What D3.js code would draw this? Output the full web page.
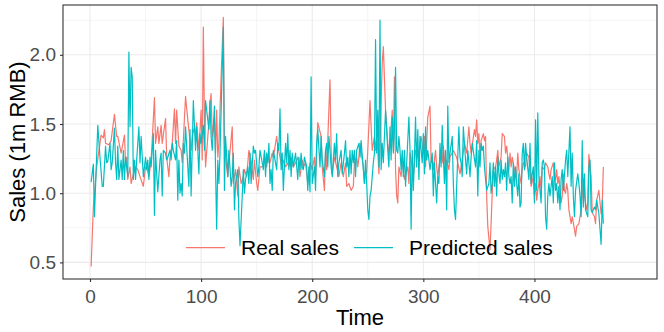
<!DOCTYPE html>
<html><head><meta charset="utf-8">
<script src="https://cdn.jsdelivr.net/npm/d3@7"></script>
<style>body{margin:0;background:#fff}svg{display:block}</style>
</head><body>
<svg id="chart" width="664" height="332"></svg>
<script>
const xTicks = [0, 100, 200, 300, 400];
const xMinorTicks = [50, 150, 250, 350, 450];
const yTicks = [0.5, 1.0, 1.5, 2.0];
const yMinorTicks = [0.75, 1.25, 1.75, 2.25];
const seriesNames = ["Real sales", "Predicted sales"];
const xTitle = "Time";
const yTitle = "Sales (1m RMB)";

// [time, sales] readings
const realSales = [[1,0.47],[3,0.90],[6,1.19],[10,1.42],[12,1.40],[13,1.46],[14,1.36],[17,1.35],[19,1.38],[22,1.57],[24,1.41],[25,1.41],[28,1.29],[31,1.42],[32,1.22],[33,1.26],[34,1.10],[36,1.19],[37,1.07],[39,1.14],[41,1.19],[43,1.17],[45,1.12],[48,1.05],[50,1.19],[51,1.19],[53,1.12],[55,1.23],[58,1.69],[59,1.36],[61,1.48],[62,1.36],[64,1.49],[65,1.36],[68,1.54],[69,1.26],[71,1.12],[72,1.26],[74,1.36],[76,1.61],[77,1.36],[78,1.60],[80,1.34],[82,1.31],[83,1.22],[86,1.70],[88,1.53],[91,1.31],[92,1.41],[94,1.48],[95,1.41],[96,1.51],[98,1.31],[100,1.60],[101,1.24],[102,2.20],[103,1.53],[104,1.19],[107,1.51],[108,1.65],[109,1.72],[110,1.41],[112,1.55],[113,1.29],[114,1.60],[115,1.26],[116,1.36],[118,1.84],[120,2.27],[121,1.36],[123,1.19],[124,1.12],[128,1.48],[129,1.07],[131,1.17],[133,0.98],[134,1.19],[136,1.07],[138,1.12],[139,1.17],[141,1.12],[143,1.31],[145,1.24],[147,1.10],[148,1.24],[150,1.07],[151,1.02],[153,1.19],[155,1.19],[156,1.22],[157,1.29],[159,1.19],[160,1.26],[162,1.22],[164,1.29],[165,1.26],[168,1.41],[169,1.34],[171,1.26],[173,1.17],[174,1.24],[176,1.19],[178,1.22],[179,1.19],[181,1.26],[183,1.19],[185,1.22],[187,1.26],[189,1.12],[191,1.24],[192,1.19],[194,1.22],[196,1.07],[198,1.22],[200,1.17],[202,1.26],[203,1.12],[204,1.31],[205,1.51],[208,1.41],[209,1.19],[211,1.02],[212,1.31],[213,1.17],[216,1.82],[217,1.31],[218,1.14],[220,1.26],[222,1.19],[224,1.12],[226,1.22],[228,1.12],[230,1.22],[231,1.05],[233,1.07],[235,1.02],[237,1.05],[238,1.22],[240,1.26],[241,1.19],[242,1.26],[243,1.36],[246,1.19],[247,1.07],[248,1.17],[249,1.14],[250,1.31],[252,1.67],[253,1.48],[254,1.31],[256,1.41],[257,1.31],[258,1.41],[259,1.31],[260,1.14],[261,1.36],[263,1.94],[264,2.06],[266,1.60],[268,1.36],[269,1.29],[270,1.34],[272,1.60],[273,1.31],[274,1.84],[275,1.17],[276,0.98],[277,0.93],[278,1.19],[280,1.12],[281,1.24],[283,1.10],[286,1.19],[287,1.07],[288,1.29],[290,1.19],[291,1.12],[293,1.31],[295,1.26],[296,1.31],[298,1.41],[300,1.29],[301,1.41],[302,1.19],[304,1.55],[306,1.63],[307,1.22],[308,1.26],[309,1.17],[311,1.31],[312,1.19],[313,1.12],[314,1.19],[316,1.29],[317,1.22],[318,1.34],[320,1.17],[321,1.24],[323,1.17],[324,1.26],[327,1.31],[328,1.29],[330,1.26],[331,1.22],[333,1.14],[334,1.19],[335,1.24],[337,1.36],[339,1.29],[341,1.48],[342,1.36],[343,1.29],[346,1.46],[347,1.41],[348,1.53],[349,1.36],[350,1.43],[351,1.26],[352,1.38],[354,1.43],[355,1.38],[356,1.41],[357,0.98],[358,0.76],[360,0.59],[361,0.78],[362,1.00],[363,1.17],[365,1.19],[366,1.24],[367,1.31],[368,1.19],[370,1.26],[371,1.43],[373,1.41],[374,1.29],[375,1.34],[377,1.17],[378,1.29],[379,1.19],[380,1.26],[382,1.17],[383,1.12],[384,1.12],[385,1.29],[386,1.17],[388,1.07],[389,1.17],[390,1.22],[392,1.19],[393,1.29],[395,1.26],[396,1.17],[397,1.05],[399,1.12],[400,0.98],[401,1.07],[402,0.95],[403,1.02],[404,1.07],[405,1.12],[406,1.02],[407,1.19],[409,1.17],[410,1.22],[412,1.19],[413,1.14],[414,1.10],[415,1.17],[417,1.22],[418,1.12],[419,1.10],[420,1.17],[421,1.07],[422,1.12],[423,1.02],[424,0.93],[425,0.98],[426,1.14],[427,1.02],[428,1.00],[429,1.07],[430,1.02],[431,0.88],[433,0.78],[434,0.83],[436,0.74],[437,0.69],[438,0.76],[440,0.78],[442,0.88],[443,0.98],[444,1.10],[445,0.98],[447,0.88],[448,0.93],[449,1.28],[451,1.12],[452,0.86],[454,0.83],[455,0.78],[456,0.95],[458,1.02],[460,0.85],[461,0.90],[462,1.19]];

const predSales = [[1,1.08],[3,1.21],[4,0.83],[7,1.49],[9,1.26],[11,1.05],[12,1.05],[14,1.34],[15,1.22],[16,1.23],[18,1.36],[19,1.17],[20,1.22],[22,1.47],[23,1.22],[24,1.10],[25,1.34],[26,1.10],[28,1.24],[29,1.10],[30,1.31],[31,1.10],[32,1.26],[33,1.19],[34,1.12],[35,2.02],[36,1.48],[37,1.91],[38,1.84],[39,1.10],[40,1.24],[41,1.10],[42,1.24],[44,1.48],[45,1.22],[46,1.41],[48,1.12],[50,1.26],[51,1.17],[52,1.24],[53,1.10],[54,1.26],[55,1.19],[57,1.43],[58,0.84],[59,1.31],[60,1.14],[61,1.01],[63,1.24],[64,1.29],[65,0.98],[66,1.31],[68,1.29],[69,1.24],[70,1.26],[72,1.31],[73,1.24],[74,1.36],[75,1.31],[77,1.24],[78,1.38],[79,0.95],[80,1.24],[81,1.00],[82,1.07],[83,0.98],[84,1.36],[85,1.29],[86,1.48],[89,1.05],[90,1.46],[91,0.98],[93,1.67],[95,1.31],[96,1.48],[98,1.14],[99,1.43],[100,1.36],[102,1.49],[103,1.31],[104,1.67],[107,1.46],[108,1.67],[109,1.41],[110,1.31],[112,1.63],[113,1.17],[114,0.74],[115,1.24],[116,1.07],[117,1.29],[120,2.20],[121,1.02],[122,1.41],[124,1.12],[125,1.31],[127,1.05],[128,1.12],[129,1.29],[130,0.88],[131,1.07],[133,1.17],[134,0.81],[135,0.62],[137,0.98],[138,1.17],[139,1.00],[140,1.10],[142,1.19],[143,1.07],[144,1.29],[145,1.07],[147,1.34],[148,1.29],[149,1.31],[151,1.12],[152,1.19],[153,1.31],[155,1.22],[156,1.17],[157,1.31],[158,1.12],[159,1.29],[160,1.22],[161,1.36],[162,1.07],[163,1.17],[164,1.02],[165,1.31],[168,1.17],[169,1.36],[170,1.31],[171,1.61],[172,1.17],[173,1.29],[174,1.02],[176,1.36],[177,1.22],[178,1.43],[179,1.17],[180,1.31],[181,1.12],[182,1.29],[183,1.19],[185,1.29],[187,1.10],[188,1.26],[189,1.17],[190,1.29],[191,1.19],[192,1.17],[193,1.26],[195,1.19],[196,1.02],[197,1.19],[198,1.01],[199,1.84],[200,1.07],[202,1.19],[203,1.02],[204,1.36],[205,1.46],[207,1.19],[208,1.41],[209,1.24],[211,1.12],[212,1.31],[213,1.36],[214,1.19],[215,1.41],[216,1.31],[217,1.19],[218,1.12],[220,1.36],[221,1.24],[222,1.43],[223,1.12],[224,1.22],[226,1.31],[227,1.14],[229,1.29],[230,1.38],[231,1.19],[232,1.26],[233,1.12],[234,1.31],[235,1.14],[236,1.31],[237,1.22],[238,1.31],[239,1.12],[240,1.31],[242,1.36],[243,1.26],[244,1.38],[246,1.17],[247,1.07],[248,1.24],[249,1.07],[250,0.88],[251,0.81],[252,0.98],[253,1.02],[255,1.22],[256,1.29],[257,2.11],[258,1.29],[259,1.60],[260,1.19],[261,2.25],[262,1.17],[263,1.36],[264,1.22],[266,1.60],[268,1.31],[269,1.19],[270,1.48],[271,1.24],[272,1.55],[273,1.29],[274,1.46],[275,1.91],[276,1.31],[277,1.29],[278,1.41],[279,1.31],[280,1.17],[281,1.31],[282,1.12],[283,1.31],[284,1.05],[287,1.55],[288,1.31],[289,0.74],[290,1.31],[291,1.02],[292,1.26],[293,1.55],[294,1.19],[295,1.46],[296,1.10],[297,1.41],[299,1.22],[300,1.43],[301,1.14],[302,1.48],[303,1.24],[304,1.31],[306,1.17],[308,1.29],[309,0.98],[310,1.22],[311,1.07],[312,0.93],[313,1.12],[314,1.07],[315,1.36],[316,1.19],[317,1.49],[318,1.26],[319,1.07],[320,1.31],[321,0.88],[322,1.63],[323,1.22],[324,1.29],[326,1.41],[327,1.07],[328,0.88],[329,0.81],[330,1.05],[332,1.48],[333,1.26],[334,1.22],[335,1.12],[336,1.48],[338,1.24],[339,1.14],[340,1.31],[341,1.22],[342,1.12],[343,1.26],[344,1.36],[347,1.19],[348,1.38],[349,0.98],[350,1.31],[351,1.19],[352,1.36],[353,1.31],[354,1.34],[355,1.19],[356,1.10],[357,1.02],[359,1.07],[360,1.22],[361,1.00],[362,1.07],[363,1.22],[364,1.05],[365,1.19],[366,0.98],[367,1.26],[368,1.14],[369,1.07],[370,1.24],[371,1.10],[372,1.17],[373,1.12],[374,1.22],[375,1.02],[376,1.26],[377,1.12],[378,1.07],[379,1.12],[380,0.93],[381,1.22],[382,1.05],[383,1.19],[384,1.07],[385,0.98],[386,1.14],[387,0.90],[388,0.93],[389,1.29],[390,1.36],[391,1.17],[392,1.36],[393,1.26],[395,1.10],[396,1.36],[397,1.07],[398,1.14],[399,1.19],[400,0.93],[401,1.53],[402,1.02],[403,1.58],[404,1.12],[406,0.93],[407,1.22],[408,1.24],[409,1.19],[410,0.83],[411,0.74],[412,0.98],[413,1.07],[414,0.98],[416,1.12],[417,0.93],[418,1.22],[419,1.02],[420,1.07],[421,0.93],[422,1.05],[423,0.88],[424,1.10],[425,1.17],[426,1.02],[428,1.24],[429,1.31],[430,1.12],[432,1.48],[433,1.05],[434,1.29],[435,0.98],[436,0.83],[437,1.02],[439,1.14],[440,1.07],[441,0.98],[442,0.83],[443,1.38],[444,0.90],[445,1.14],[446,0.88],[448,0.83],[449,1.19],[450,1.24],[451,0.88],[452,0.86],[454,0.90],[455,0.88],[456,0.95],[458,0.85],[460,0.63],[461,0.95],[462,0.78]];

const series = [
  {name: seriesNames[0], data: realSales, color: "#F8766D"},
  {name: seriesNames[1], data: predSales, color: "#00BFC4"}
];

const panel = {left: 63, right: 657, top: 5, bottom: 279};
const all = realSales.concat(predSales);
const vExt = d3.extent(all, d => d[1]);
const vPad = (vExt[1] - vExt[0]) * 0.05;
const x = d3.scaleLinear().domain([-24.3, 510.3]).range([panel.left, panel.right]);
const y = d3.scaleLinear().domain([vExt[0] - vPad, vExt[1] + vPad]).range([panel.bottom, panel.top]);

const svg = d3.select("#chart");
const font = "'Liberation Sans', Arial, Helvetica, sans-serif";
svg.append("rect").attr("width", 664).attr("height", 332).attr("fill", "#fff");

const g = svg.append("g");
g.selectAll(".vminor").data(xMinorTicks).join("line")
  .attr("x1", d => x(d)).attr("x2", d => x(d)).attr("y1", panel.top).attr("y2", panel.bottom)
  .attr("stroke", "#EBEBEB").attr("stroke-width", 0.55);
g.selectAll(".hminor").data(yMinorTicks).join("line")
  .attr("y1", d => y(d)).attr("y2", d => y(d)).attr("x1", panel.left).attr("x2", panel.right)
  .attr("stroke", "#EBEBEB").attr("stroke-width", 0.55);
g.selectAll(".vmajor").data(xTicks).join("line")
  .attr("x1", d => x(d)).attr("x2", d => x(d)).attr("y1", panel.top).attr("y2", panel.bottom)
  .attr("stroke", "#EBEBEB").attr("stroke-width", 1.1);
g.selectAll(".hmajor").data(yTicks).join("line")
  .attr("y1", d => y(d)).attr("y2", d => y(d)).attr("x1", panel.left).attr("x2", panel.right)
  .attr("stroke", "#EBEBEB").attr("stroke-width", 1.1);

const line = d3.line().x(d => x(d[0])).y(d => y(d[1]));
svg.append("g").selectAll("path").data(series).join("path")
  .attr("d", d => line(d.data)).attr("fill", "none")
  .attr("stroke", d => d.color).attr("stroke-width", 1.2)
  .attr("stroke-linejoin", "round");

svg.append("rect").attr("x", panel.left).attr("y", panel.top)
  .attr("width", panel.right - panel.left).attr("height", panel.bottom - panel.top)
  .attr("fill", "none").attr("stroke", "#333333").attr("stroke-width", 1.1);

const xAxis = d3.axisBottom(x).tickValues(xTicks).tickSize(3).tickPadding(8).tickFormat(d3.format("d"));
const yAxis = d3.axisLeft(y).tickValues(yTicks).tickSize(3).tickPadding(4).tickFormat(d3.format(".1f"));
const gx = svg.append("g").attr("transform", `translate(0,${panel.bottom})`).call(xAxis);
const gy = svg.append("g").attr("transform", `translate(${panel.left},0)`).call(yAxis);
[gx, gy].forEach(a => {
  a.select(".domain").remove();
  a.selectAll(".tick line").attr("stroke", "#333333").attr("stroke-width", 1.1);
  a.selectAll(".tick text").attr("fill", "#4D4D4D").style("font-family", font).style("font-size", "19px");
});

svg.append("text").text(xTitle).attr("x", (panel.left + panel.right) / 2).attr("y", 325)
  .attr("text-anchor", "middle").style("font-family", font).style("font-size", "22px").attr("fill", "#000");
svg.append("text").text(yTitle)
  .attr("transform", `translate(25,${(panel.top + panel.bottom) / 2}) rotate(-90)`)
  .attr("text-anchor", "middle").style("font-family", font).style("font-size", "22px").attr("fill", "#000");

const legY = 247.7;
let lx = 186;
const leg = svg.append("g");
series.forEach(s => {
  leg.append("line").attr("x1", lx).attr("x2", lx + 39).attr("y1", legY).attr("y2", legY)
    .attr("stroke", s.color).attr("stroke-width", 1.2);
  const t = leg.append("text").text(s.name).attr("x", lx + 55).attr("y", legY + 7.5)
    .style("font-family", font).style("font-size", "21px").attr("fill", "#000");
  lx = lx + 55 + t.node().getComputedTextLength() + 15;
});
</script>
</body></html>
